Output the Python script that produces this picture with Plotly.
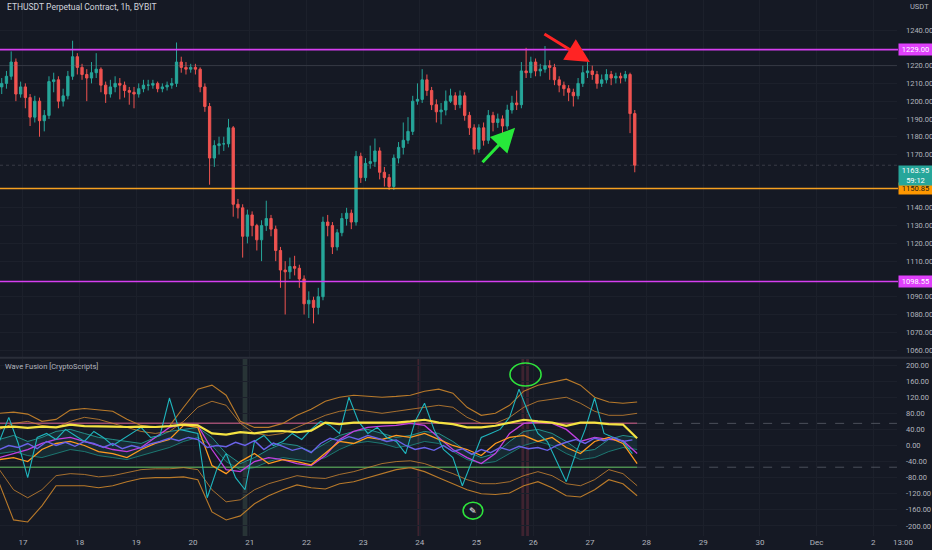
import pandas as pd
import plotly.graph_objects as go

# ---------------- text ----------------
title_text = "ETHUSDT Perpetual Contract, 1h, BYBIT"
indicator_title = "Wave Fusion [CryptoScripts]"
currency_text = "USDT"
corner_time_text = "13:00"

# ---------------- candles (2h bars) ----------------
candle_start = "2022-11-16 15:00"
first_open = 1208
candle_close = [1210,1214,1222,1204,1208,1202,1191,1200,1189,1192,
                1211,1212,1200,1203,1214,1225,1219,1215,1213,1216,
                1218,1209,1204,1208,1210,1209,1206,1205,1204,1207,
                1209,1209,1210,1207,1208,1209,1210,1222,1219,1218,
                1219,1218,1208,1197,1168,1175,1176,1176,1185,1142,
                1140,1124,1136,1130,1122,1130,1134,1128,1116,1105,
                1104,1107,1106,1100,1086,1088,1084,1090,1132,1130,
                1118,1126,1134,1137,1132,1169,1157,1165,1166,1172,
                1160,1157,1152,1168,1174,1178,1183,1200,1201,1212,
                1206,1198,1194,1195,1200,1203,1198,1203,1192,1185,
                1173,1185,1178,1192,1188,1190,1186,1195,1199,1198,
                1217,1216,1222,1217,1218,1220,1219,1212,1209,1207,
                1205,1203,1210,1216,1217,1215,1210,1212,1215,1213,
                1214,1213,1215,1193,1164]
candle_high = [1213,1217,1228,1224,1211,1210,1204,1203,1202,1195,
               1214,1216,1214,1207,1217,1234,1227,1221,1218,1222,
               1227,1219,1211,1212,1214,1213,1211,1208,1208,1210,
               1212,1212,1212,1211,1210,1211,1213,1233,1225,1222,
               1221,1221,1219,1210,1199,1178,1180,1180,1190,1186,
               1145,1142,1139,1138,1131,1133,1144,1136,1130,1118,
               1110,1112,1113,1108,1102,1093,1090,1095,1135,1136,
               1132,1128,1137,1140,1139,1172,1171,1168,1175,1179,
               1174,1163,1159,1170,1177,1188,1191,1203,1210,1218,
               1215,1208,1201,1199,1206,1207,1205,1206,1205,1194,
               1187,1187,1188,1195,1194,1193,1192,1198,1203,1206,
               1222,1230,1225,1224,1221,1231,1223,1221,1214,1211,
               1209,1207,1213,1220,1222,1220,1217,1215,1218,1217,
               1216,1216,1217,1216,1195]
candle_low = [1204,1207,1212,1200,1202,1196,1186,1188,1180,1183,
              1190,1205,1196,1197,1201,1212,1215,1212,1200,1210,
              1213,1205,1199,1202,1205,1201,1202,1198,1196,1202,
              1205,1206,1207,1205,1205,1206,1207,1208,1216,1215,
              1216,1215,1205,1194,1153,1163,1170,1172,1174,1135,
              1134,1112,1120,1124,1116,1110,1127,1124,1110,1095,
              1080,1100,1102,1095,1080,1078,1075,1080,1088,1124,
              1114,1116,1124,1130,1128,1130,1154,1155,1162,1163,
              1156,1152,1150,1150,1165,1170,1176,1181,1198,1199,
              1203,1195,1188,1187,1192,1199,1195,1196,1189,1181,
              1170,1171,1175,1176,1183,1185,1182,1184,1193,1195,
              1196,1213,1213,1214,1214,1216,1212,1209,1205,1203,
              1200,1197,1201,1208,1213,1212,1207,1208,1210,1209,
              1210,1210,1211,1182,1160]
candle_open = [first_open] + candle_close[:-1]

# ---------------- price levels ----------------
resistance_level = 1229.00
support_level = 1150.85
low_level = 1098.55
ref_level = 1220.00
last_price = 1163.95
countdown = "59:12"
price_ticks = [1060,1070,1080,1090,1110,1120,1130,1140,1170,1180,1190,1200,1210,1220,1240]

# ---------------- indicator series ----------------
ind_start = "2022-11-16 14:00"
teal_fast = [10,70,5,-80,20,30,15,40,25,10,
             35,20,0,15,30,45,20,25,118,40,
             35,30,-130,-60,-20,-80,-110,10,25,0,
             10,30,15,40,60,50,30,120,60,30,
             45,20,10,-20,60,105,40,-10,-30,-100,
             -40,20,30,40,70,140,80,30,10,-40,
             -90,-20,40,118,30,20,10,-20]
blue_wave = [-10,0,-5,5,-8,10,0,8,-2,10,
             5,-5,5,-8,0,-6,4,10,18,12,
             20,15,-5,0,-3,8,0,12,-10,6,
             -2,-12,-6,-18,5,18,12,22,15,25,
             18,10,14,0,-10,-5,-12,0,-15,-8,
             -22,-10,-18,-5,-12,-2,-8,-5,-12,0,
             8,15,5,18,12,20,10,14]
yellow_wave = [45,47,44,47,45,52,48,48,47,46,
               47,46,48,52,50,30,27,33,30,35,
               36,33,37,57,53,57,57,57,57,60,
               64,57,53,45,45,49,57,64,60,57,
               49,57,57,53,52,18]
upper_env = [80,83,78,60,65,88,92,88,85,65,
             50,45,48,95,140,150,125,60,45,45,
             55,75,90,110,120,125,122,120,122,125,
             135,140,130,95,75,80,100,135,150,158,
             165,150,120,108,105,108]
lower_env = [-95,-185,-190,-150,-100,-100,-100,-105,-100,-90,
             -82,-80,-80,-78,-85,-165,-185,-175,-145,-125,
             -110,-98,-105,-108,-95,-90,-80,-70,-60,-55,
             -65,-80,-95,-110,-120,-122,-118,-100,-90,-105,
             -125,-128,-110,-85,-95,-125]
mid_upper = [40,55,60,50,45,60,70,65,55,45,
             35,30,35,60,95,110,100,55,30,25,
             30,45,60,75,85,90,85,80,85,90,
             95,100,95,70,55,55,70,95,110,115,
             120,105,85,75,75,80]
mid_lower = [-60,-110,-130,-110,-75,-70,-72,-78,-75,-68,
             -60,-58,-58,-55,-60,-110,-140,-135,-110,-95,
             -85,-75,-80,-82,-72,-65,-55,-45,-40,-38,
             -45,-58,-70,-85,-95,-95,-90,-75,-65,-75,
             -95,-100,-85,-60,-70,-100]
magenta_wave = [-30,-20,-10,5,15,20,10,0,-10,-15,
                -5,20,45,52,50,-10,-60,-65,-40,-30,
                -35,-45,-50,-25,15,35,45,48,50,55,
                50,20,-10,-30,-45,-20,30,55,58,55,
                40,10,20,15,12,-20]
orange_wave = [-35,-30,-40,-10,5,10,0,-15,-20,-30,
               -10,5,15,50,45,-50,-70,-40,-20,-45,
               -35,-40,-48,-20,10,5,20,15,25,20,
               30,15,0,-10,-25,5,20,25,10,20,
               -5,-20,10,20,5,-45]
teal_upper = [15,25,10,20,35,40,30,20,15,10,
              5,20,35,40,45,20,-20,-45,-30,-10,
              5,0,-15,5,25,35,40,30,20,25,
              35,30,10,-15,-30,-20,10,35,40,30,
              10,-15,-10,15,25,20]
teal_lower = [-20,-15,-25,-30,-20,-10,-15,-25,-30,-35,
              -25,-15,-5,10,20,0,-40,-60,-55,-40,
              -30,-35,-40,-30,-10,5,10,5,-5,0,
              10,5,-15,-35,-45,-40,-20,0,10,0,
              -20,-35,-30,-15,-5,-10]
ob_level = 55
os_level = -54
ind_ticks = [-200,-160,-120,-80,-40,0,40,80,120,160,200]

# highlighted bars in the indicator
highlight_green = ["2022-11-20 21:00"]
highlight_red = ["2022-11-23 23:00", "2022-11-25 19:00", "2022-11-25 21:00"]

# arrows on the price chart (head time, head price)
red_arrow = ("2022-11-27 00:00", 1222)
green_arrow = ("2022-11-25 16:20", 1185)
# hand drawn circles on the indicator (time0, time1, val0, val1)
circle_top = ("2022-11-25 14:10", "2022-11-26 03:20", 148, 205)
circle_bottom = ("2022-11-24 18:20", "2022-11-25 02:40", -183, -141)

# ---------------- derived axes ----------------
candle_time = pd.date_range(candle_start, periods=len(candle_close), freq="2h")
t4 = pd.date_range(ind_start, periods=len(teal_fast), freq="4h")
t6 = pd.date_range(ind_start, periods=len(yellow_wave), freq="6h")
x_range = ["2022-11-16 14:16", "2022-12-02 10:00"]
day_ticks = pd.date_range("2022-11-17", "2022-12-02", freq="D")
day_text = [("Dec" if d.day == 1 else str(d.day)) for d in day_ticks]

BG = "#151924"
GRID = "#1c202b"
TXT = "#b2b5be"
UP = "#26a69a"
DN = "#ef5350"
FONT = "Roboto"

fig = go.Figure()

fig.add_trace(go.Candlestick(
    x=candle_time, open=candle_open, high=candle_high, low=candle_low, close=candle_close,
    increasing=dict(line=dict(color=UP, width=1), fillcolor=UP),
    decreasing=dict(line=dict(color=DN, width=1), fillcolor=DN),
    whiskerwidth=0, xaxis="x", yaxis="y", showlegend=False, hoverinfo="skip"))

def add_line(x, y, color, width=1.0, **kw):
    fig.add_trace(go.Scatter(x=x, y=y, mode="lines", line=dict(color=color, width=width),
                             xaxis="x", yaxis="y2", showlegend=False, hoverinfo="skip", **kw))

# cloud
add_line(t6, teal_lower, "rgba(30,140,130,0.8)", 1)
add_line(t6, teal_upper, "rgba(40,170,160,0.8)", 1, fill="tonexty",
         fillcolor="rgba(38,166,154,0.13)")
# level lines
add_line([t6[0], t6[-1]], [ob_level, ob_level], "rgba(190,90,130,0.8)", 1.5)
add_line([t6[0], t6[-1]], [os_level, os_level], "rgba(90,170,90,0.8)", 1.5)
# envelopes
add_line(t6, upper_env, "#b97a2a", 1.1)
add_line(t6, lower_env, "#b97a2a", 1.1)
add_line(t6, mid_upper, "rgba(215,140,50,0.75)", 1)
add_line(t6, mid_lower, "rgba(215,140,50,0.75)", 1)
add_line(t6, magenta_wave, "#c23fe0", 1.3)
add_line(t6, orange_wave, "#ff9a1f", 1.3)
add_line(t4, teal_fast, "#1fb5bd", 1.1)
add_line(t4, blue_wave, "#6a62e8", 1.4)
add_line(t6, yellow_wave, "#f5e342", 2.2)

shapes = []
# horizontal price levels
for lvl, col, w in [(resistance_level, "#d63ff0", 1.6), (support_level, "#f5a020", 1.6),
                    (low_level, "#d63ff0", 1.6)]:
    shapes.append(dict(type="line", xref="paper", x0=0, x1=0.9635, yref="y", y0=lvl, y1=lvl,
                       line=dict(color=col, width=w), layer="above"))
shapes.append(dict(type="line", xref="paper", x0=0, x1=0.9624, yref="y", y0=ref_level, y1=ref_level,
                   line=dict(color="rgba(120,123,134,0.28)", width=1)))
shapes.append(dict(type="line", xref="paper", x0=0, x1=0.9624, yref="y", y0=last_price, y1=last_price,
                   line=dict(color="rgba(120,123,134,0.35)", width=1, dash="dot")))
# dashed continuation of indicator levels
for lvl in [ob_level, os_level]:
    shapes.append(dict(type="line", xref="x", x0=t6[-1], x1=x_range[1], yref="y2", y0=lvl, y1=lvl,
                       line=dict(color="rgba(120,123,134,0.55)", width=1, dash="dash")))
# highlight columns
for t in highlight_green:
    tt = pd.Timestamp(t)
    shapes.append(dict(type="rect", xref="x", x0=tt, x1=tt + pd.Timedelta(hours=2), yref="y2 domain",
                       y0=0, y1=1, fillcolor="rgba(110,150,120,0.22)", line=dict(width=0), layer="below"))
for t in highlight_red:
    tt = pd.Timestamp(t)
    shapes.append(dict(type="rect", xref="x", x0=tt, x1=tt + pd.Timedelta(hours=1.2), yref="y2 domain",
                       y0=0, y1=1, fillcolor="rgba(170,60,80,0.28)", line=dict(width=0), layer="below"))
# circles
for c in [circle_top, circle_bottom]:
    shapes.append(dict(type="circle", xref="x", x0=c[0], x1=c[1], yref="y2", y0=c[2], y1=c[3],
                       line=dict(color="#2ee33c", width=1.6)))
# panel separator
shapes.append(dict(type="line", xref="paper", x0=0, x1=1, yref="paper", y0=0.3325, y1=0.3325,
                   line=dict(color="#2a2e39", width=2)))

ann = []
ann.append(dict(text=title_text, xref="paper", yref="paper", x=0.005, y=0.987, xanchor="left",
                yanchor="middle", showarrow=False, font=dict(color="#d1d4dc", size=8.5, family=FONT)))
ann.append(dict(text=currency_text, xref="paper", yref="paper", x=0.974, y=0.987, xanchor="left",
                yanchor="middle", showarrow=False, font=dict(color=TXT, size=7.5, family=FONT)))
ann.append(dict(text=indicator_title, xref="paper", yref="paper", x=0.003, y=0.316, xanchor="left",
                yanchor="middle", showarrow=False, font=dict(color=TXT, size=7.5, family=FONT)))
ann.append(dict(text=corner_time_text, xref="paper", yref="paper", x=0.969, y=-0.012, xanchor="center",
                yanchor="middle", showarrow=False, font=dict(color=TXT, size=8, family=FONT)))
for lvl, bg, fg in [(resistance_level, "#e040fb", "#ffffff"), (support_level, "#ff9800", "#1a1a1a"),
                    (low_level, "#e040fb", "#ffffff")]:
    ann.append(dict(text=f"{lvl:.2f}", xref="paper", yref="y", x=0.9636, y=lvl, xanchor="left",
                    yanchor="middle", showarrow=False, bgcolor=bg, width=33, height=11, borderpad=0,
                    font=dict(color=fg, size=7.5, family=FONT)))
ann.append(dict(text=f"{last_price:.2f}<br>{countdown}", xref="paper", yref="y", x=0.9636, y=last_price,
                xanchor="left", yanchor="top", showarrow=False, bgcolor=UP, width=33, height=19,
                borderpad=0, font=dict(color="#ffffff", size=7.5, family=FONT)))
ann.append(dict(x=red_arrow[0], y=red_arrow[1], xref="x", yref="y", ax=-47, ay=-29, showarrow=True,
                arrowhead=2, arrowsize=1.6, arrowwidth=3, arrowcolor="#ff2424", text=""))
ann.append(dict(x=green_arrow[0], y=green_arrow[1], xref="x", yref="y", ax=-34, ay=36, showarrow=True,
                arrowhead=2, arrowsize=1.6, arrowwidth=3, arrowcolor="#27e83a", text=""))
icon_t = pd.Timestamp(circle_bottom[0]) + (pd.Timestamp(circle_bottom[1]) - pd.Timestamp(circle_bottom[0])) / 2
ann.append(dict(text="✎", x=icon_t, y=(circle_bottom[2] + circle_bottom[3]) / 2, xref="x", yref="y2",
                showarrow=False, font=dict(color="#ffffff", size=9, family="DejaVu Sans")))

fig.update_layout(
    width=932, height=550,
    margin=dict(l=0, r=0, t=0, b=14),
    paper_bgcolor=BG, plot_bgcolor=BG,
    font=dict(family=FONT, color=TXT, size=8),
    showlegend=False,
    shapes=shapes, annotations=ann,
    xaxis=dict(domain=[0, 0.9624], range=x_range, type="date", anchor="y2",
               tickvals=day_ticks, ticktext=day_text, showgrid=True, gridcolor=GRID, gridwidth=1,
               zeroline=False, showline=False, ticks="", tickfont=dict(size=8, color=TXT),
               rangeslider=dict(visible=False), fixedrange=True),
    yaxis=dict(domain=[0.334, 1], range=[1056.1, 1256.9], side="right", anchor="x",
               tickvals=price_ticks, ticktext=[f"{v:.2f}" for v in price_ticks],
               showgrid=True, gridcolor=GRID, zeroline=False, showline=False, ticks="",
               tickfont=dict(size=7.5, color=TXT), ticklabelstandoff=8),
    yaxis2=dict(domain=[0, 0.3302], range=[-225, 215], side="right", anchor="x",
                tickvals=ind_ticks, ticktext=[f"{v:.2f}" for v in ind_ticks],
                showgrid=True, gridcolor=GRID, zeroline=False, showline=False, ticks="",
                tickfont=dict(size=7.5, color=TXT), ticklabelstandoff=8),
)

fig.write_html("out.html", config={"displayModeBar": False},
               post_script="document.body.style.margin='0';document.body.style.background='#151924';document.body.style.overflow='hidden';")
